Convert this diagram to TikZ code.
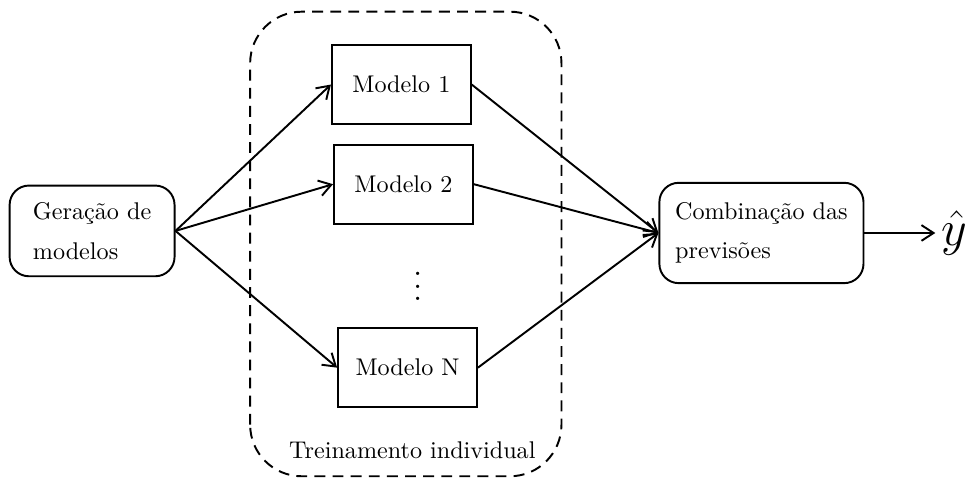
\documentclass[tikz,border=0pt]{standalone}
\usetikzlibrary{arrows.meta}
\begin{document}
\begin{tikzpicture}[thick,
  bloco/.style={draw, rounded corners=8pt, align=left},
  modelo/.style={draw, minimum width=2.02cm, minimum height=1.15cm},
  seta/.style={-{Straight Barb[length=5pt,width=6.5pt]}}]
\useasboundingbox (0,0) rectangle (14.1,7.03);
\draw[dash pattern=on 4.5pt off 3pt, rounded corners=0.75cm] (3.64,0.10) rectangle (8.17,6.86);
\node[bloco, minimum width=2.40cm, minimum height=1.32cm] (geracao) at (1.34,3.67) {Geração de\\[4.4pt]modelos};
\node[modelo] (m1) at (5.84,5.80) {Modelo 1};
\node[modelo] (m2) at (5.87,4.35) {Modelo 2};
\node (pontos) at (6.08,3.0) {\scalebox{1.3}{$\vdots$}};
\node[modelo] (mN) at (5.93,1.68) {Modelo N};
\node[bloco, minimum width=2.97cm, minimum height=1.46cm] (comb) at (11.08,3.64) {Combinação das\\[4pt]previsões};
\node[anchor=west, inner sep=2pt] (yhat) at (13.61,3.64) {\huge $\hat{y}$};
\node (treino) at (6.0,0.48) {Treinamento individual};
\draw[seta] (geracao.east) -- (m1.west);
\draw[seta] (geracao.east) -- (m2.west);
\draw[seta] (geracao.east) -- (mN.west);
\draw[seta] (m1.east) -- (comb.west);
\draw[seta] (m2.east) -- (comb.west);
\draw[seta] (mN.east) -- (comb.west);
\draw[seta] (comb) -- (yhat);
\end{tikzpicture}
\end{document}
